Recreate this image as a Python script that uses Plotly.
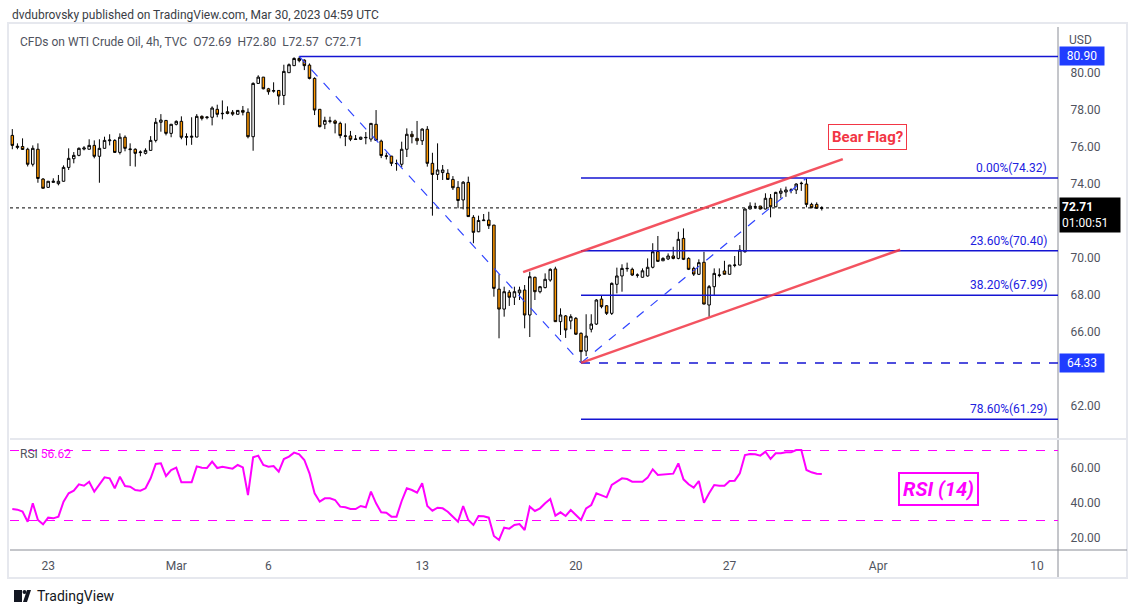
import plotly.graph_objects as go

# ---------------- data ----------------
opens = [76.63, 75.98, 76.03, 75.88, 75.07, 75.88, 74.27, 73.82, 74.09, 74.02,
         74.15, 74.90, 75.37, 75.55, 75.89, 75.88, 76.09, 75.50, 75.93, 76.34,
         76.36, 75.71, 76.53, 75.86, 75.88, 75.70, 75.66, 75.82, 76.36, 77.34,
         77.44, 76.74, 77.23, 77.39, 76.53, 76.53, 76.54, 77.66, 77.59, 77.61,
         78.04, 77.80, 77.91, 77.88, 77.77, 77.98, 77.88, 76.56, 79.44, 79.78,
         79.15, 79.02, 79.06, 78.79, 80.02, 80.40, 80.79, 80.70, 80.43, 79.71,
         78.04, 77.23, 77.39, 77.41, 77.28, 76.58, 76.60, 76.41, 76.42, 76.50,
         76.43, 77.23, 76.32, 75.50, 75.51, 75.10, 75.07, 75.88, 76.69, 76.47,
         76.34, 76.96, 75.12, 74.52, 74.62, 74.58, 74.25, 73.82, 73.14, 74.09,
         72.20, 71.42, 72.02, 72.05, 71.78, 68.32, 67.24, 68.15, 67.88, 68.12,
         68.27, 66.92, 68.96, 68.18, 68.40, 68.81, 69.41, 66.56, 66.87, 66.60,
         66.74, 65.93, 64.97, 66.15, 66.43, 67.78, 67.42, 67.01, 68.58, 69.03,
         69.42, 69.39, 69.07, 68.96, 69.03, 69.50, 70.35, 69.85, 69.95, 70.11,
         69.98, 71.06, 69.98, 69.44, 69.12, 69.77, 67.46, 68.45, 69.06, 69.30,
         69.12, 69.60, 69.62, 70.34, 72.65, 72.76, 72.81, 72.65, 73.23, 72.77,
         73.50, 73.57, 73.66, 73.68, 74.02, 74.00, 72.90, 72.90, 72.69]
highs = [76.97, 76.20, 76.47, 75.96, 76.09, 76.20, 74.32, 74.16, 74.31, 74.49,
         75.01, 75.93, 75.73, 75.98, 76.05, 76.42, 76.36, 76.42, 76.56, 76.69,
         76.42, 76.74, 76.63, 76.20, 75.93, 75.82, 75.93, 76.59, 77.57, 77.78,
         77.46, 77.25, 77.44, 77.66, 76.74, 77.61, 77.78, 77.71, 77.66, 78.20,
         78.29, 78.52, 78.20, 78.00, 77.98, 78.22, 78.09, 79.50, 79.88, 79.79,
         79.20, 79.50, 79.07, 80.45, 80.52, 80.85, 80.90, 80.74, 80.52, 79.77,
         78.05, 77.64, 77.64, 77.48, 77.37, 77.28, 76.87, 76.65, 76.56, 76.81,
         77.30, 78.00, 76.40, 75.70, 75.52, 75.32, 76.29, 77.01, 76.87, 77.41,
         77.01, 77.13, 75.69, 76.20, 75.03, 74.80, 74.43, 74.16, 74.16, 74.40,
         72.32, 72.29, 72.38, 72.50, 71.79, 69.12, 68.45, 68.27, 68.45, 68.45,
         68.54, 69.26, 68.99, 68.49, 69.17, 69.44, 69.53, 67.28, 66.92, 66.96,
         66.81, 65.98, 66.96, 66.96, 67.78, 67.96, 67.46, 68.68, 69.48, 69.66,
         69.75, 69.48, 69.17, 69.44, 69.98, 70.80, 71.19, 70.04, 70.25, 70.61,
         71.42, 71.60, 70.04, 69.53, 69.93, 70.34, 68.54, 69.44, 69.44, 69.85,
         69.63, 70.11, 70.70, 72.68, 73.01, 72.99, 72.82, 73.50, 73.46, 73.58,
         73.77, 73.86, 73.77, 74.04, 74.13, 74.32, 72.99, 73.01, 72.80]
lows = [75.88, 75.88, 75.84, 74.95, 74.95, 74.07, 73.77, 73.80, 74.07, 73.93,
        74.13, 74.76, 75.12, 75.50, 75.82, 75.87, 75.39, 74.07, 75.92, 76.09,
        75.70, 75.60, 75.77, 74.97, 74.94, 75.50, 75.60, 75.81, 76.25, 76.83,
        76.63, 76.53, 77.17, 76.42, 76.09, 76.12, 76.53, 77.44, 77.50, 77.17,
        77.61, 77.50, 77.77, 77.69, 77.76, 77.71, 76.47, 75.80, 79.43, 79.12,
        78.83, 78.94, 78.29, 78.27, 80.01, 80.39, 80.58, 80.16, 79.66, 77.73,
        77.07, 76.97, 77.28, 76.74, 76.47, 76.05, 76.32, 76.38, 76.38, 76.15,
        76.29, 76.34, 75.40, 75.33, 74.97, 74.72, 74.92, 75.46, 76.20, 76.12,
        76.11, 74.94, 72.29, 74.22, 74.22, 74.22, 73.68, 72.69, 72.63, 72.23,
        70.80, 71.40, 72.01, 71.57, 67.91, 65.66, 66.83, 67.41, 67.46, 67.73,
        66.20, 65.73, 67.73, 68.09, 68.36, 68.72, 66.55, 65.84, 65.68, 66.15,
        65.84, 64.33, 64.70, 65.98, 66.38, 67.28, 66.92, 66.92, 68.09, 68.18,
        69.26, 69.03, 68.94, 68.94, 68.99, 69.44, 69.80, 69.84, 69.89, 69.93,
        69.93, 69.89, 69.35, 69.03, 69.08, 67.50, 66.83, 68.00, 68.96, 69.11,
        69.11, 69.50, 69.61, 70.29, 72.64, 72.65, 72.63, 72.63, 72.20, 72.74,
        73.23, 73.31, 73.50, 73.46, 73.63, 72.74, 72.69, 72.68, 72.57]
closes = [76.09, 76.04, 75.87, 75.07, 75.93, 74.30, 73.77, 74.15, 74.15, 74.15,
          74.90, 75.39, 75.55, 75.93, 75.95, 76.09, 75.50, 75.93, 76.36, 76.38,
          75.71, 76.53, 75.93, 75.89, 75.66, 75.73, 75.82, 76.36, 77.34, 77.46,
          76.74, 77.23, 77.39, 76.53, 76.56, 76.58, 77.66, 77.55, 77.62, 78.11,
          77.77, 77.82, 77.82, 77.78, 77.98, 77.88, 76.56, 79.44, 79.78, 79.15,
          78.99, 79.05, 78.76, 80.09, 80.45, 80.79, 80.67, 80.40, 79.71, 78.00,
          77.10, 77.44, 77.41, 77.28, 76.62, 76.60, 76.42, 76.43, 76.53, 76.52,
          77.28, 76.36, 75.54, 75.52, 75.12, 75.11, 75.88, 76.69, 76.56, 76.34,
          76.97, 75.12, 74.52, 74.76, 74.76, 74.25, 73.80, 73.11, 74.10, 72.24,
          71.39, 72.03, 72.05, 71.75, 68.36, 67.24, 68.18, 67.88, 68.18, 68.27,
          66.92, 68.99, 68.18, 68.45, 68.85, 69.39, 66.56, 66.92, 66.11, 66.83,
          65.88, 64.94, 65.78, 66.43, 67.73, 67.37, 67.01, 68.63, 69.03, 69.44,
          69.44, 69.08, 69.08, 69.31, 69.50, 70.34, 69.82, 69.98, 70.11, 69.98,
          71.01, 69.93, 69.39, 69.13, 69.75, 67.51, 68.45, 69.17, 69.08, 69.12,
          69.62, 69.62, 70.43, 72.65, 72.81, 72.77, 72.65, 73.23, 72.77, 73.55,
          73.62, 73.68, 73.68, 74.00, 74.04, 72.90, 72.72, 72.69, 72.71]
rsi = [36.57, 36.19, 35.05, 29.33, 39.81, 30.29, 27.81, 31.62, 31.24, 32.19,
       40.76, 45.52, 47.05, 50.67, 49.90, 52.19, 46.48, 50.67, 54.67, 54.10,
       48.38, 55.05, 49.71, 49.33, 47.43, 47.05, 48.38, 54.10, 62.29, 62.67,
       55.43, 58.86, 60.19, 51.81, 51.62, 51.81, 60.95, 60.19, 60.00, 63.62,
       60.00, 60.76, 60.19, 59.62, 61.71, 60.38, 44.57, 66.10, 67.05, 61.71,
       60.76, 61.14, 57.90, 65.14, 66.48, 68.76, 67.81, 64.57, 56.95, 45.52,
       40.76, 42.67, 42.67, 41.71, 37.90, 37.52, 36.57, 36.57, 38.29, 37.52,
       46.48, 39.81, 34.67, 34.48, 32.19, 32.19, 41.14, 48.38, 47.43, 45.90,
       51.24, 38.29, 35.62, 37.33, 36.95, 35.05, 32.19, 29.33, 38.29, 30.29,
       27.43, 32.57, 32.38, 31.62, 21.14, 18.86, 25.90, 25.33, 27.43, 28.00,
       24.57, 37.90, 35.43, 36.95, 39.81, 42.29, 32.76, 34.67, 32.57, 36.00,
       33.14, 30.29, 36.95, 38.86, 45.52, 44.19, 43.24, 50.29, 52.19, 54.10,
       53.71, 52.19, 52.19, 52.19, 54.48, 59.24, 56.00, 56.38, 56.76, 56.76,
       62.67, 53.52, 50.67, 48.76, 52.57, 40.19, 45.52, 50.29, 49.90, 49.90,
       52.57, 52.76, 56.95, 67.43, 68.00, 67.81, 67.05, 69.33, 65.14, 68.38,
       68.38, 68.95, 68.95, 70.29, 70.29, 58.86, 57.52, 56.76, 56.62]

x_tick_pos = [7, 32, 50, 80, 110, 140, 169, 200]
x_tick_text = ["23", "Mar", "6", "13", "20", "27", "Apr", "10"]
# 64.00 and 72.00 sit under the price tags in the reference
price_ticks = [62, 66, 68, 70, 74, 76, 78, 80]
rsi_ticks = [20, 40, 60]
rsi_levels = [70, 30]

# drawing tools (bar index, price)
swing_points = [(56, 80.90), (111, 64.33), (155, 74.32)]
fib_labels = ["0.00%", "23.60%", "38.20%", "78.60%"]
fib_levels = [74.32, 70.40, 67.99, 61.29]
upper_channel = [(99.7, 69.24), (162.1, 75.35)]
lower_channel = [(111.0, 64.33), (173.3, 70.45)]
bear_flag_pos = (167, 76.54)
rsi_box_pos = (180.7, 48.0)

title_text = "dvdubrovsky published on TradingView.com, Mar 30, 2023 04:59 UTC"
symbol_text = "CFDs on WTI Crude Oil, 4h, TVC"
countdown = "01:00:51"

# ---------------- layout geometry ----------------
W, H = 1136, 613
ML, MR, MT, MB = 10, 78, 27, 63
PW, PH = W - ML - MR, H - MT - MB
X_RANGE = [-0.45, 204.1]
P_RANGE = [60.27, 82.49]
R_RANGE = [13.14, 76.0]


def px(xp):
    return (xp - ML) / PW


def py(yp):
    return (H - MB - yp) / PH


FONT = "Roboto"
GREY = "#50535e"
BLUE = "#1414d2"
DBLUE = "#2f44ff"
RED = "#f23645"
MAG = "#ff00ff"
TAGBLUE = "#1f3cff"
SP = "\u00a0\u00a0"

idx = list(range(len(opens)))
last_i = len(opens) - 1

fig = go.Figure()
fig.add_trace(go.Candlestick(
    x=idx, open=opens, high=highs, low=lows, close=closes,
    increasing=dict(line=dict(color="#000000", width=1), fillcolor="#ffffff"),
    decreasing=dict(line=dict(color="#000000", width=1), fillcolor="#ff9800"),
    whiskerwidth=0, hoverinfo="skip", yaxis="y", xaxis="x", showlegend=False))
fig.add_trace(go.Scatter(
    x=idx, y=rsi, mode="lines", line=dict(color=MAG, width=2),
    yaxis="y2", xaxis="x", hoverinfo="skip", showlegend=False))

shapes = []
# frame and separators
shapes.append(dict(type="rect", xref="paper", yref="paper", x0=px(8), x1=px(1127),
                   y0=py(578), y1=py(23), line=dict(color="#e6e8ee", width=2)))
shapes.append(dict(type="line", xref="paper", yref="paper", x0=1, x1=1,
                   y0=py(27), y1=py(577), line=dict(color="#8a8d96", width=1)))
shapes.append(dict(type="line", xref="paper", yref="paper", x0=px(10), x1=px(1127),
                   y0=py(550), y1=py(550), line=dict(color="#8a8d96", width=1)))
shapes.append(dict(type="line", xref="paper", yref="paper", x0=px(10), x1=px(1127),
                   y0=py(439), y1=py(439), line=dict(color="#e6e8ee", width=2)))

# current price dotted line
shapes.append(dict(type="line", xref="paper", yref="y", x0=0, x1=1,
                   y0=closes[last_i], y1=closes[last_i],
                   line=dict(color="#000000", width=1, dash="dot")))
# swing high / low rays
shapes.append(dict(type="line", xref="x", yref="y", x0=swing_points[0][0], x1=X_RANGE[1],
                   y0=swing_points[0][1], y1=swing_points[0][1],
                   line=dict(color=BLUE, width=1.5)))
shapes.append(dict(type="line", xref="x", yref="y", x0=swing_points[1][0], x1=X_RANGE[1],
                   y0=swing_points[1][1], y1=swing_points[1][1],
                   line=dict(color=BLUE, width=1.5, dash="dash")))
# fib levels
for lv in fib_levels:
    shapes.append(dict(type="line", xref="x", yref="y", x0=swing_points[1][0], x1=X_RANGE[1],
                       y0=lv, y1=lv, line=dict(color=BLUE, width=1.5)))
# swing trend dashed lines
for a, b in zip(swing_points[:-1], swing_points[1:]):
    shapes.append(dict(type="line", xref="x", yref="y", x0=a[0], y0=a[1], x1=b[0], y1=b[1],
                       line=dict(color=DBLUE, width=1.2, dash="dash")))
# channel
for ch in (upper_channel, lower_channel):
    shapes.append(dict(type="line", xref="x", yref="y", x0=ch[0][0], y0=ch[0][1],
                       x1=ch[1][0], y1=ch[1][1], line=dict(color=RED, width=2.5),
                       opacity=0.85))
# RSI bands
for lv in rsi_levels:
    shapes.append(dict(type="line", xref="paper", yref="y2", x0=0, x1=1, y0=lv, y1=lv,
                       line=dict(color=MAG, width=1, dash="dash")))

# TradingView logo (simple)
shapes.append(dict(type="rect", xref="paper", yref="paper", x0=px(14), x1=px(22),
                   y0=py(602), y1=py(590), fillcolor="#131722", line=dict(width=0)))
shapes.append(dict(type="circle", xref="paper", yref="paper", x0=px(22.5), x1=px(26.5),
                   y0=py(594), y1=py(590), fillcolor="#131722", line=dict(width=0)))
shapes.append(dict(type="path", xref="paper", yref="paper",
                   path="M %f %f L %f %f L %f %f L %f %f Z" % (px(27), py(590), px(31), py(590),
                                                              px(27), py(602), px(23), py(602)),
                   fillcolor="#131722", line=dict(width=0)))

ann = []
ann.append(dict(xref="paper", yref="paper", x=px(10), y=py(15), xanchor="left", yanchor="middle",
                text=title_text, showarrow=False, font=dict(family=FONT, size=12, color="#3a3d45")))
ohlc_text = SP.join([symbol_text, "O%.2f" % opens[last_i], "H%.2f" % highs[last_i],
                     "L%.2f" % lows[last_i], "C%.2f" % closes[last_i]])
ann.append(dict(xref="paper", yref="paper", x=px(18), y=py(42), xanchor="left", yanchor="middle",
                text=ohlc_text, showarrow=False, font=dict(family=FONT, size=12, color=GREY)))
ann.append(dict(xref="paper", yref="paper", x=1, xshift=9, y=py(40), xanchor="left",
                yanchor="middle", text="USD", showarrow=False,
                font=dict(family=FONT, size=12, color=GREY)))
ann.append(dict(xref="paper", yref="paper", x=px(18), y=py(454), xanchor="left", yanchor="middle",
                text="RSI <span style='color:%s'>%.2f</span>" % (MAG, rsi[last_i]),
                showarrow=False, font=dict(family=FONT, size=12, color=GREY)))
# fib labels
for lb, lv in zip(fib_labels, fib_levels):
    ann.append(dict(xref="paper", yref="y", x=px(1049), y=lv, yshift=10, xanchor="right",
                    yanchor="middle", text="%s(%.2f)" % (lb, lv), showarrow=False,
                    font=dict(family=FONT, size=12, color="#2020e0")))
# price tags
for val in (swing_points[0][1], swing_points[1][1]):
    ann.append(dict(xref="paper", yref="y", x=1, xshift=1, y=val, xanchor="left",
                    yanchor="middle", text="%.2f" % val, showarrow=False,
                    bgcolor=TAGBLUE, borderpad=2, width=40, align="center",
                    font=dict(family=FONT, size=12, color="#ffffff")))
ann.append(dict(xref="paper", yref="y", x=1, xshift=1, y=closes[last_i], yshift=-7,
                xanchor="left", yanchor="middle", align="left", width=56,
                text="<b>%.2f</b><br>%s" % (closes[last_i], countdown), showarrow=False,
                bgcolor="#000000", borderpad=2,
                font=dict(family=FONT, size=12, color="#ffffff")))
# callouts
ann.append(dict(xref="x", yref="y", x=bear_flag_pos[0], y=bear_flag_pos[1], text="<b>Bear Flag?</b>",
                showarrow=False, bordercolor=RED, borderwidth=1, borderpad=3, bgcolor="#ffffff",
                font=dict(family=FONT, size=15, color=RED)))
ann.append(dict(xref="x", yref="y2", x=rsi_box_pos[0], y=rsi_box_pos[1], text="<b><i>RSI (14)</i></b>",
                showarrow=False, bordercolor=MAG, borderwidth=2, borderpad=3, bgcolor="#ffffff",
                font=dict(family=FONT, size=20, color=MAG)))
ann.append(dict(xref="paper", yref="paper", x=px(35), y=py(596), xanchor="left", yanchor="middle",
                text="TradingView", showarrow=False, font=dict(family=FONT, size=14, color="#131722")))

fig.update_layout(
    width=W, height=H, margin=dict(l=ML, r=MR, t=MT, b=MB),
    paper_bgcolor="#ffffff", plot_bgcolor="#ffffff", showlegend=False, hovermode=False,
    font=dict(family=FONT, size=12, color=GREY),
    xaxis=dict(range=X_RANGE, anchor="y2", tickvals=x_tick_pos, ticktext=x_tick_text,
               showgrid=False, zeroline=False, showline=False, ticks="outside", ticklen=5,
               tickcolor="rgba(0,0,0,0)", rangeslider=dict(visible=False),
               tickfont=dict(family=FONT, size=12, color=GREY)),
    yaxis=dict(domain=[py(438), 1], range=P_RANGE, side="right", tickvals=price_ticks,
               tickformat=".2f", showgrid=False, zeroline=False, showline=False,
               ticks="outside", ticklen=9, tickcolor="rgba(0,0,0,0)",
               tickfont=dict(family=FONT, size=12, color=GREY)),
    yaxis2=dict(domain=[0, py(440)], range=R_RANGE, side="right", tickvals=rsi_ticks,
                tickformat=".2f", showgrid=False, zeroline=False, showline=False,
                ticks="outside", ticklen=9, tickcolor="rgba(0,0,0,0)",
                tickfont=dict(family=FONT, size=12, color=GREY)),
    shapes=shapes, annotations=ann,
)

fig.write_html("out.html", config={"displayModeBar": False},
               post_script="document.body.style.margin='0px';"
                           "document.body.style.overflow='hidden';")
